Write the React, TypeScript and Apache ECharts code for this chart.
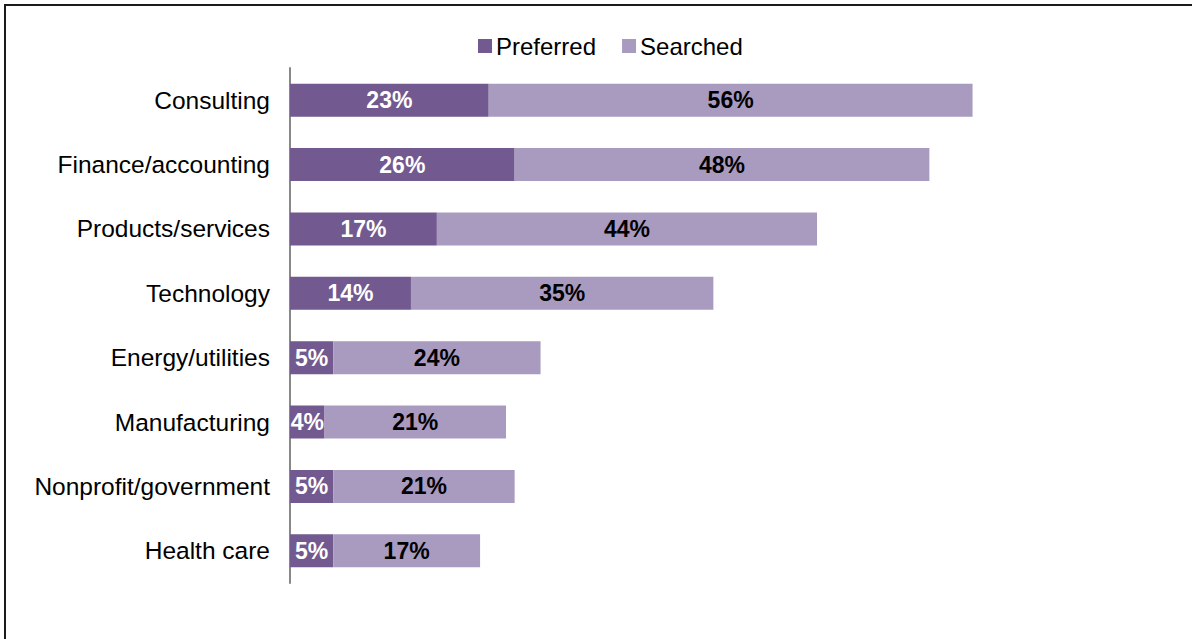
import React, { useEffect, useRef } from "react";
import * as echarts from "echarts";

const categories = [
  "Consulting",
  "Finance/accounting",
  "Products/services",
  "Technology",
  "Energy/utilities",
  "Manufacturing",
  "Nonprofit/government",
  "Health care",
];
const preferred = [23, 26, 17, 14, 5, 4, 5, 5];
const searched = [56, 48, 44, 35, 24, 21, 21, 17];
const seriesNames = ["Preferred", "Searched"];

export default function App() {
  const ref = useRef<HTMLDivElement>(null);
  useEffect(() => {
    document.body.style.margin = "0";
    const chart = echarts.init(ref.current!, undefined, { renderer: "svg" });
    const font = "Arial, 'Liberation Sans', sans-serif";
    chart.setOption({
      animation: false,
      backgroundColor: "#ffffff",
      textStyle: { fontFamily: font },
      graphic: [
        {
          type: "rect",
          shape: { x: 5, y: 5, width: 1300, height: 800 },
          style: { fill: "none", stroke: "#1a1a1a", lineWidth: 2 },
          silent: true,
          z: 100,
        },
      ],
      legend: {
        data: seriesNames,
        top: 29,
        left: 473,
        itemWidth: 14,
        itemHeight: 14,
        itemGap: 26,
        icon: "rect",
        textStyle: { fontSize: 24, color: "#000", fontFamily: font, padding: [0, 0, 0, -1] },
      },
      grid: { left: 290, right: 38, top: 68, bottom: 56, containLabel: false },
      xAxis: {
        type: "value",
        min: 0,
        max: 100,
        show: false,
      },
      yAxis: {
        type: "category",
        data: categories,
        inverse: true,
        axisLine: { show: true, lineStyle: { color: "#888888", width: 2 } },
        axisTick: { show: false },
        axisLabel: { fontSize: 24.5, color: "#000", margin: 20, fontFamily: font },
      },
      series: [
        {
          name: seriesNames[0],
          type: "bar",
          stack: "total",
          barWidth: 33,
          data: preferred,
          itemStyle: { color: "#72598F" },
          label: {
            show: true,
            position: "inside",
            formatter: "{c}%",
            color: "#ffffff",
            fontWeight: "bold",
            fontSize: 23,
            fontFamily: font,
          },
        },
        {
          name: seriesNames[1],
          type: "bar",
          stack: "total",
          barWidth: 33,
          data: searched,
          itemStyle: { color: "#A99AC0" },
          label: {
            show: true,
            position: "inside",
            formatter: "{c}%",
            color: "#000000",
            fontWeight: "bold",
            fontSize: 23,
            fontFamily: font,
          },
        },
      ],
    });
    return () => chart.dispose();
  }, []);
  return (
    <div
      ref={ref}
      style={{ position: "absolute", left: 0, top: 0, width: 1192, height: 639 }}
    />
  );
}
